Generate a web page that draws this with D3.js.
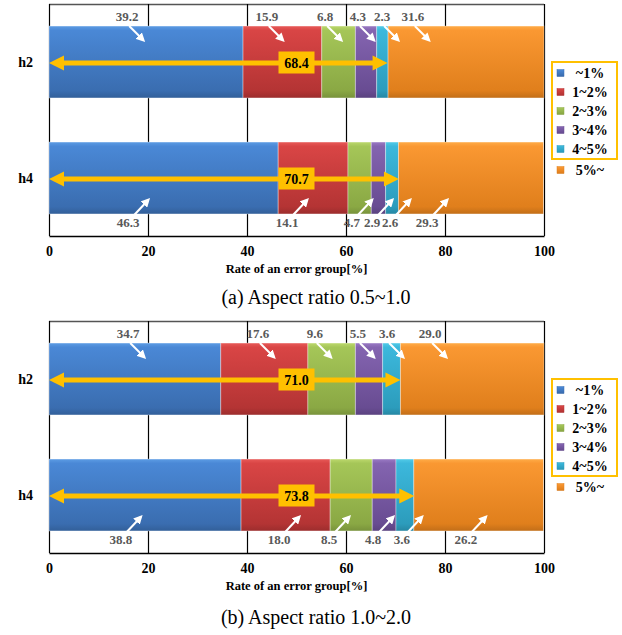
<!DOCTYPE html>
<html>
<head>
<meta charset="utf-8">
<script src="https://cdn.jsdelivr.net/npm/d3@7/dist/d3.min.js"></script>
<style>
  html, body { margin: 0; padding: 0; background: #fff; }
  svg { display: block; font-family: "Liberation Serif", "Times New Roman", serif; }
</style>
</head>
<body>
<svg id="chart" width="622" height="635"></svg>
<script>
// ---------- data ----------
const categories = ["~1%", "1~2%", "2~3%", "3~4%", "4~5%", "5%~"];
const rows = ["h2", "h4"];
const ticks = [0, 20, 40, 60, 80, 100];
const axisTitle = "Rate of an error group[%]";
const captions = ["(a) Aspect ratio 0.5~1.0", "(b) Aspect ratio 1.0~2.0"];

const panelA_h2 = [39.2, 15.9, 6.8, 4.3, 2.3, 31.6];
const panelA_h4 = [46.3, 14.1, 4.7, 2.9, 2.6, 29.3];
const panelA_totals = [68.4, 70.7];

const panelB_h2 = [34.7, 17.6, 9.6, 5.5, 3.6, 29.0];
const panelB_h4 = [38.8, 18.0, 8.5, 4.8, 3.6, 26.2];
const panelB_totals = [71.0, 73.8];

// where the value labels sit, in axis units (%)
const labelAtA_h2 = [15.8, 44.0, 55.8, 62.4, 67.3, 73.5];
const labelAtA_h4 = [16.0, 48.1, 61.2, 65.3, 68.9, 76.4];
const labelAtB_h2 = [16.0, 42.2, 53.7, 62.4, 68.3, 77.0];
const labelAtB_h4 = [14.5, 46.5, 56.6, 65.5, 71.3, 84.2];

// ---------- styles ----------
const colors = [
  {top: "#5c9ce4", mid: "#4a88d6", bot: "#3a6db0"},
  {top: "#e85a58", mid: "#d94545", bot: "#b43434"},
  {top: "#bcd86c", mid: "#a5c658", bot: "#8aa844"},
  {top: "#9a7ac4", mid: "#8464b0", bot: "#684c92"},
  {top: "#52cbe8", mid: "#3cb8dc", bot: "#2c9cbc"},
  {top: "#ffac48", mid: "#fa9832", bot: "#e07f1c"}
];
const yellow = "#ffc000";

const svg = d3.select("#chart");
const defs = svg.append("defs");
colors.forEach((c, i) => {
  const g = defs.append("linearGradient").attr("id", "grad" + i)
    .attr("x1", 0).attr("y1", 0).attr("x2", 0).attr("y2", 1);
  g.append("stop").attr("offset", "0%").attr("stop-color", c.top);
  g.append("stop").attr("offset", "6%").attr("stop-color", c.mid);
  g.append("stop").attr("offset", "90%").attr("stop-color", c.bot);
  g.append("stop").attr("offset", "100%").attr("stop-color", d3.color(c.bot).darker(0.4));
});
// white small arrow marker
defs.append("marker").attr("id", "wArrow")
  .attr("viewBox", "0 0 10 10").attr("refX", 7).attr("refY", 5)
  .attr("markerWidth", 4.5).attr("markerHeight", 4.5).attr("orient", "auto")
  .append("path").attr("d", "M0,0 L10,5 L0,10 z").attr("fill", "#fff");

const x = d3.scaleLinear().domain([0, 100]).range([49, 544]);

function drawPanel(top, data, totals, labelAt, caption, capOffset) {
  const bottom = top + 232;
  const g = svg.append("g");
  const y = d3.scaleBand().domain(rows).range([top, bottom]).paddingInner(0.38).paddingOuter(0.19);

  // frame
  g.append("line").attr("x1", x(0)).attr("x2", x(100)).attr("y1", top + 0.5).attr("y2", top + 0.5)
    .attr("stroke", "#555").attr("stroke-width", 1.5);
  // grid lines
  g.selectAll(".grid").data(ticks).enter().append("line")
    .attr("x1", d => Math.round(x(d)) + 0.5).attr("x2", d => Math.round(x(d)) + 0.5)
    .attr("y1", top).attr("y2", bottom)
    .attr("stroke", "#000").attr("stroke-width", 1.2);

  // x axis
  const axis = d3.axisBottom(x).tickValues(ticks).tickSize(0).tickPadding(10);
  const ax = g.append("g").attr("transform", `translate(0,${bottom})`).call(axis);
  ax.attr("font-family", "Liberation Serif");
  ax.select(".domain").attr("stroke", "#000").attr("stroke-width", 1.5);
  ax.selectAll("text").attr("font-family", "Liberation Serif").attr("font-size", 14)
    .attr("font-weight", "bold").attr("fill", "#000");

  g.append("text").attr("x", (x(0) + x(100)) / 2).attr("y", bottom + 33)
    .attr("text-anchor", "middle").attr("dominant-baseline", "central")
    .attr("font-size", 12.5).attr("font-weight", "bold").text(axisTitle);

  g.append("text").attr("x", 316).attr("y", bottom + capOffset)
    .attr("text-anchor", "middle").attr("dominant-baseline", "central")
    .attr("font-size", 20).text(caption);

  rows.forEach((r, ri) => {
    const vals = data[ri];
    let acc = 0;
    const segs = vals.map((v, i) => { const s = {i, v, x0: acc, x1: acc + v}; acc += v; return s; });
    const by = y(r), bh = y.bandwidth();

    // bars
    g.selectAll(".bar" + ri).data(segs).enter().append("rect")
      .attr("x", d => x(d.x0)).attr("width", d => x(Math.min(d.x1, 100)) - x(d.x0))
      .attr("y", by).attr("height", bh)
      .attr("fill", d => `url(#grad${d.i})`)
      .attr("stroke", "rgba(255,255,255,0.35)").attr("stroke-width", 1);

    // row label
    g.append("text").attr("x", 33).attr("y", by + bh / 2)
      .attr("text-anchor", "end").attr("dominant-baseline", "central")
      .attr("font-size", 14).attr("font-weight", "bold").text(r);

    // value labels + white arrows
    const above = ri === 0;
    const ly = above ? by - 10 : by + bh + 9;
    g.selectAll(".lab" + ri).data(segs).enter().append("text")
      .attr("x", d => x(labelAt[ri][d.i])).attr("y", ly)
      .attr("text-anchor", "middle").attr("dominant-baseline", "central")
      .attr("font-size", 13).attr("font-weight", "bold").attr("fill", "#595959")
      .text(d => d.v.toFixed(1));
    g.selectAll(".arr" + ri).data(segs).enter().append("line")
      .attr("x1", d => x(labelAt[ri][d.i]) + (above ? 2 : 6))
      .attr("y1", above ? by : by + bh + 1)
      .attr("x2", d => x(labelAt[ri][d.i]) + (above ? 16 : 20))
      .attr("y2", above ? by + 14 : by + bh - 14)
      .attr("stroke", "#fff").attr("stroke-width", 2)
      .attr("marker-end", "url(#wArrow)");

    // yellow double arrow
    const cy = by + bh / 2 + 1;
    const xs = x(0), xe = x(totals[ri]);
    const hl = 15, hw = 7.5, sw = 2.6;
    g.append("path")
      .attr("d", `M${xs},${cy} L${xs + hl},${cy - hw} L${xs + hl},${cy - sw} L${xe - hl},${cy - sw}
                  L${xe - hl},${cy - hw} L${xe},${cy} L${xe - hl},${cy + hw} L${xe - hl},${cy + sw}
                  L${xs + hl},${cy + sw} L${xs + hl},${cy + hw} Z`)
      .attr("fill", yellow);
    const bx = x(50);
    g.append("rect").attr("x", bx - 18).attr("y", cy - 11.5).attr("width", 36).attr("height", 22)
      .attr("fill", yellow);
    g.append("text").attr("x", bx).attr("y", cy)
      .attr("text-anchor", "middle").attr("dominant-baseline", "central")
      .attr("font-size", 14).attr("font-weight", "bold").attr("fill", "#000")
      .text(totals[ri].toFixed(1));
  });

  // legend
  const lg = svg.append("g");
  const ly0 = top + 69;
  lg.append("rect").attr("x", 552).attr("y", top + 58).attr("width", 65).attr("height", 97)
    .attr("fill", "none").attr("stroke", yellow).attr("stroke-width", 2);
  categories.forEach((c, i) => {
    const yy = ly0 + i * 19 + (i === 5 ? 2 : 0);
    lg.append("rect").attr("x", 557).attr("y", yy - 3.5).attr("width", 7).attr("height", 7)
      .attr("fill", `url(#grad${i})`).attr("stroke", colors[i].bot).attr("stroke-width", 0.5);
    lg.append("text").attr("x", 590).attr("y", yy)
      .attr("text-anchor", "middle").attr("dominant-baseline", "central")
      .attr("font-size", 14).attr("font-weight", "bold").text(c);
  });
}

drawPanel(4, [panelA_h2, panelA_h4], panelA_totals, [labelAtA_h2, labelAtA_h4], captions[0], 61);
drawPanel(321, [panelB_h2, panelB_h4], panelB_totals, [labelAtB_h2, labelAtB_h4], captions[1], 64);
</script>
</body>
</html>
